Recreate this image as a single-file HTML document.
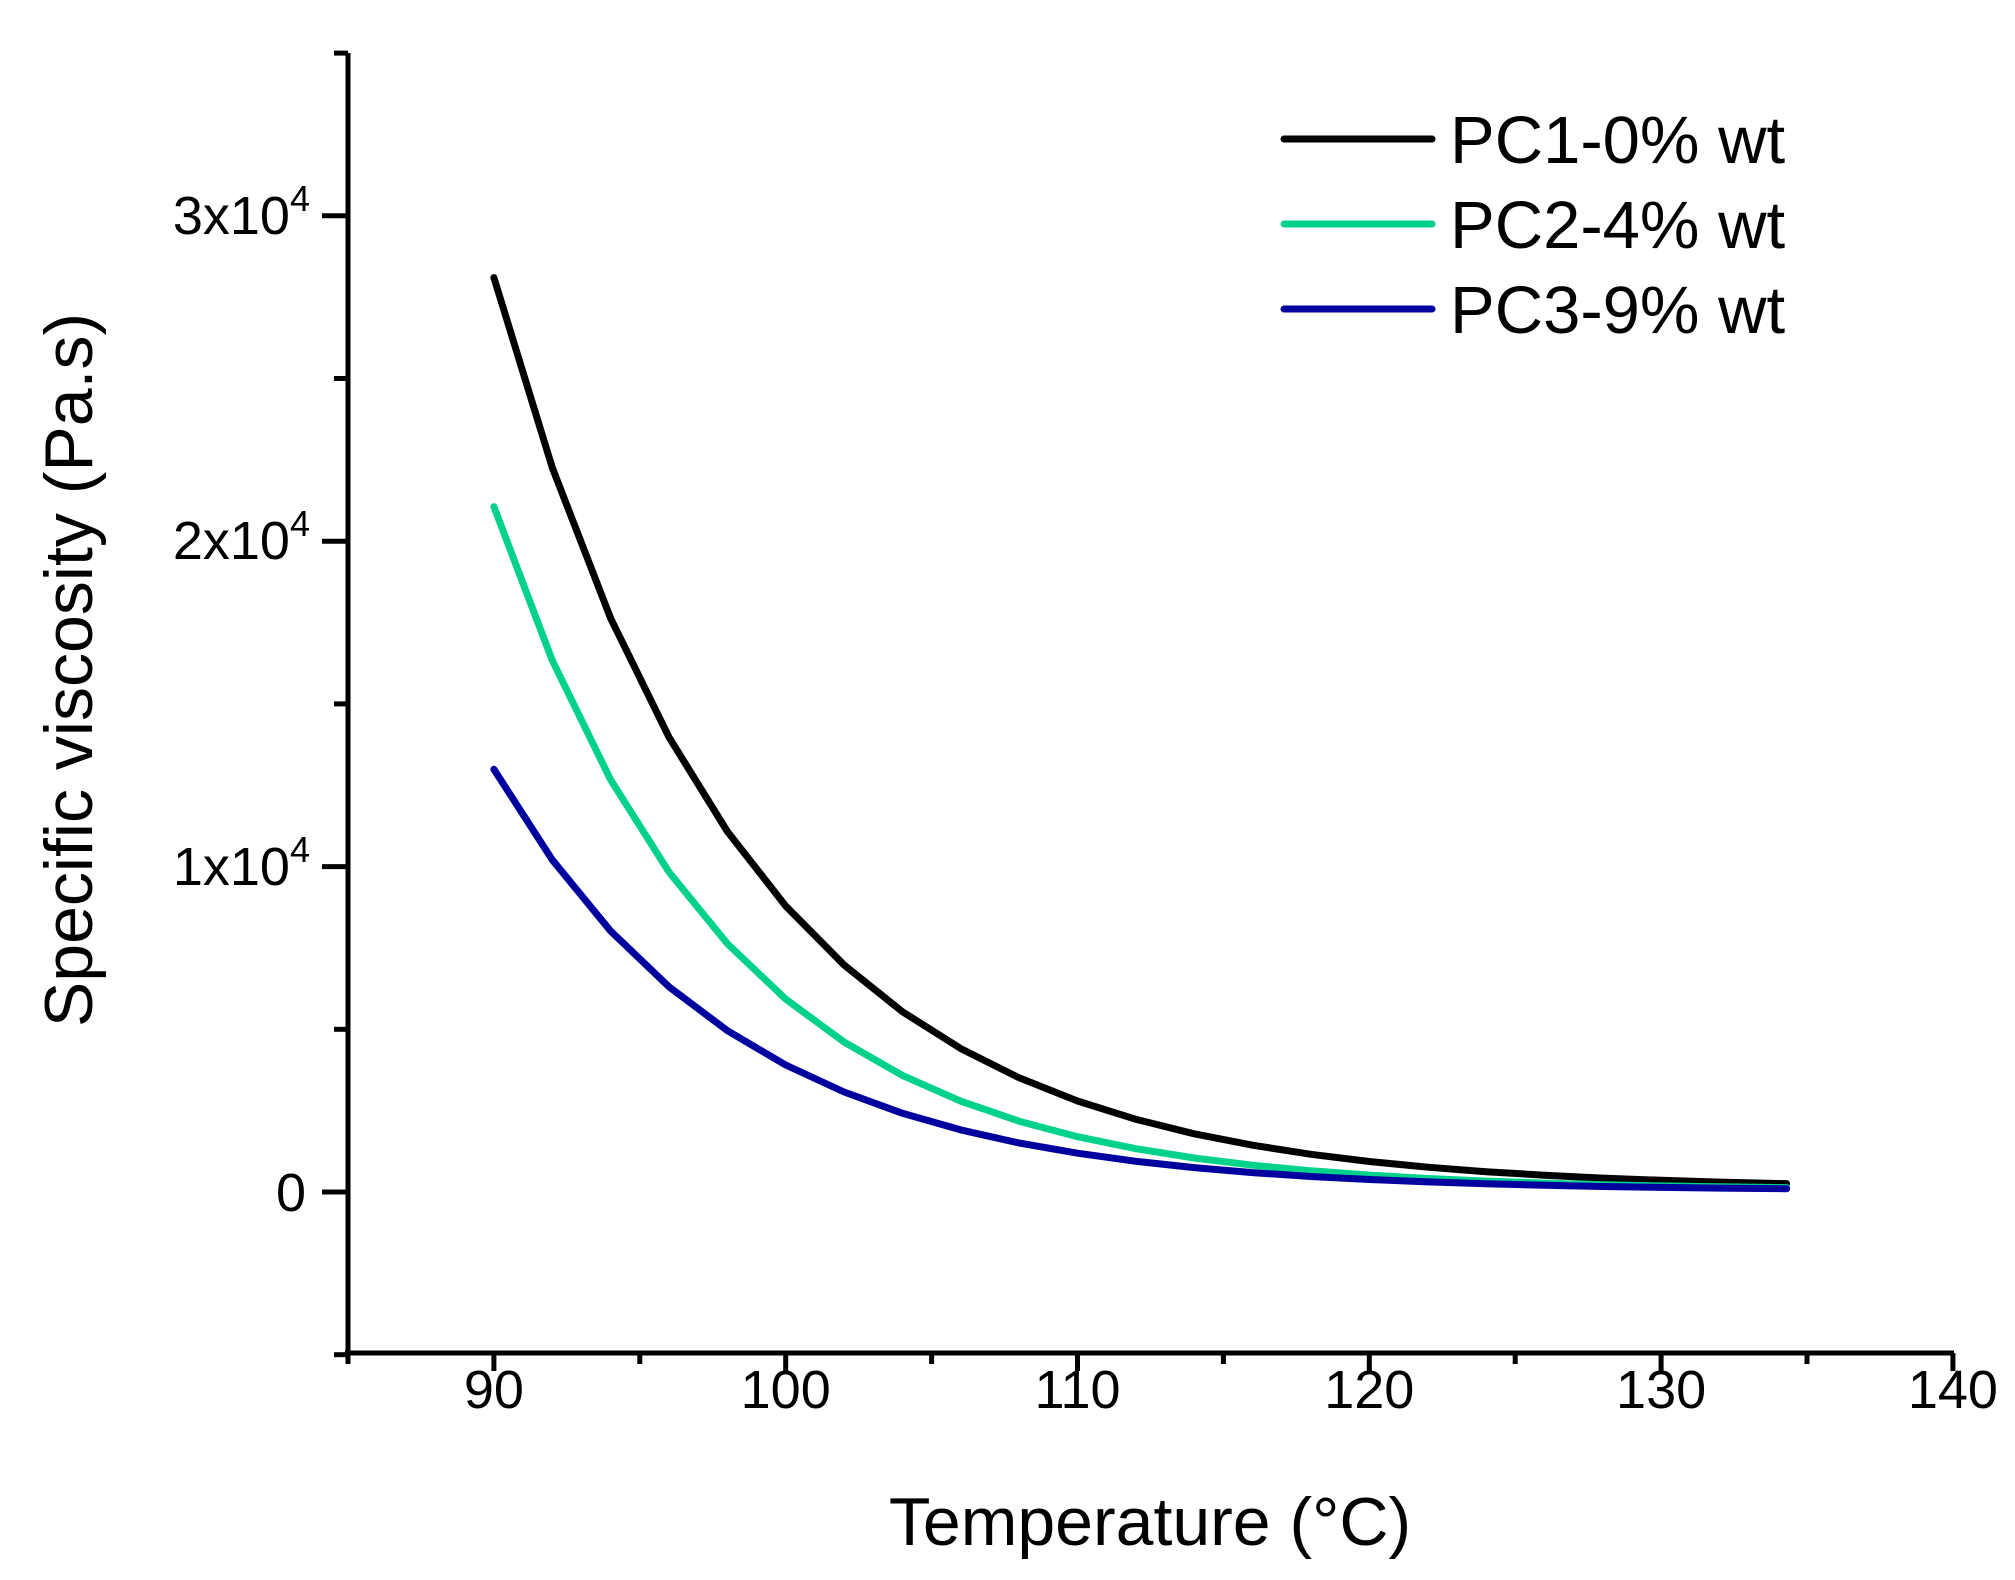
<!DOCTYPE html>
<html><head><meta charset="utf-8"><style>
html,body{margin:0;padding:0;background:#fff;}
svg{display:block;font-family:"Liberation Sans",Arial,sans-serif;}
</style></head><body>
<svg id="s" width="2015" height="1580" viewBox="0 0 2015 1580" xmlns="http://www.w3.org/2000/svg">
<g stroke="#000" stroke-width="5" fill="none">
<line x1="348" y1="53" x2="348" y2="1355"/>
<line x1="345" y1="1353" x2="1954" y2="1353"/>
</g>
<g id="ticks" stroke="#000" stroke-width="5"></g>
<g id="xl" font-size="54" text-anchor="middle" fill="#000" transform="translate(0,0)"></g>
<g font-size="54" text-anchor="end" fill="#000">
<text x="306" y="1211">0</text>
<text x="310" y="885">1x10<tspan font-size="36" dy="-23">4</tspan></text>
<text x="310" y="559">2x10<tspan font-size="36" dy="-23">4</tspan></text>
<text x="310" y="234">3x10<tspan font-size="36" dy="-23">4</tspan></text>
</g>
<text x="1150" y="1545" font-size="68" text-anchor="middle">Temperature (°C)</text>
<text transform="translate(92,670) rotate(-90)" font-size="68" text-anchor="middle">Specific viscosity (Pa.s)</text>
<g stroke-width="7" stroke-linecap="round">
<line x1="1284" y1="139" x2="1432" y2="139" stroke="#000"/>
<line x1="1284" y1="224" x2="1432" y2="224" stroke="#00d28c"/>
<line x1="1284" y1="309" x2="1432" y2="309" stroke="#00009e"/>
</g>
<g font-size="67" fill="#000">
<text x="1450" y="163">PC1-0% wt</text>
<text x="1450" y="248">PC2-4% wt</text>
<text x="1450" y="333">PC3-9% wt</text>
</g>
<g id="curves" fill="none" stroke-width="7" stroke-linejoin="round" stroke-linecap="round"></g>
</svg>
<script>
var NS="http://www.w3.org/2000/svg";
function X(t){return 348+(t-85)*29.18;}
function Y(v){return 1192-v*0.03254;}
var tk=document.getElementById("ticks");
function ln(x1,y1,x2,y2){var l=document.createElementNS(NS,"line");l.setAttribute("x1",x1);l.setAttribute("y1",y1);l.setAttribute("x2",x2);l.setAttribute("y2",y2);tk.appendChild(l);}
var xl=document.getElementById("xl");
for(var t=85;t<=140;t+=5){var maj=(t%10==0);ln(X(t),1353,X(t),1353+(maj?18:11));
 if(maj){var tx=document.createElementNS(NS,"text");tx.setAttribute("x",X(t));tx.setAttribute("y",1408);tx.textContent=t;xl.appendChild(tx);}}
for(var v=-5000;v<=35000;v+=5000){var maj=(v%10000==0);ln(348,Y(v),348-(maj?26:14),Y(v));}
var cv=document.getElementById("curves");
function curve(a,k,c,col){var d="";for(var t=90;t<=134.31;t+=2){var tt=Math.min(t,134.3);var v=a*Math.exp(-k*(tt-90))+c;d+=(d?"L":"M")+X(tt).toFixed(1)+","+Y(v).toFixed(1);}
var tt=134.3;d+="L"+X(tt).toFixed(1)+","+Y(a*Math.exp(-k*(tt-90))+c).toFixed(1);
var p=document.createElementNS(NS,"path");p.setAttribute("d",d);p.setAttribute("stroke",col);cv.appendChild(p);}
curve(28000,0.117,100,"#000");
curve(21000,0.1275,60,"#00d28c");
curve(12950,0.121,40,"#00009e");
</script>
</body></html>
